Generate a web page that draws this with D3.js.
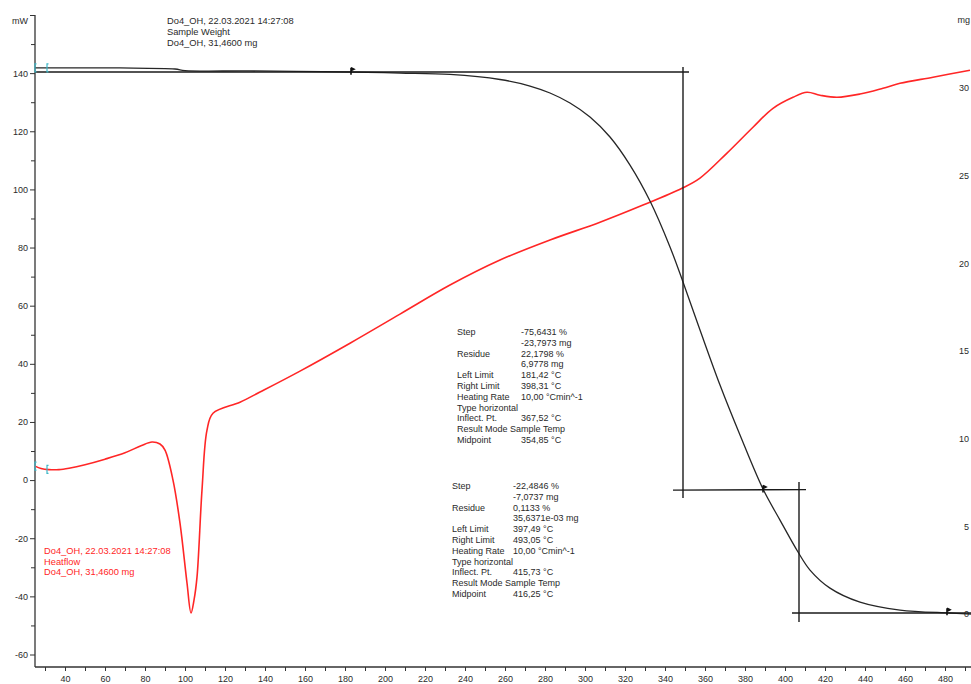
<!DOCTYPE html>
<html><head><meta charset="utf-8">
<script src="https://cdn.jsdelivr.net/npm/d3@7/dist/d3.min.js"></script>
<style>
body{margin:0;background:#fff}
svg{display:block}
text{font-family:"Liberation Sans",Arial,sans-serif}
</style>
</head><body>
<svg id="chart" width="971" height="684"></svg>
<script>
// ---------- data ----------
const tempTickValues = d3.range(40, 481, 20);
const heatflowTickValues = d3.range(-60, 141, 20);
const massTickValues = [0, 5, 10, 15, 20, 25, 30];

// DSC heat flow (mW) vs temperature (°C)
const dscTemp = [25, 28, 32, 37, 42, 50, 60, 70, 78, 83.5, 87.5, 90, 94, 97.5, 101, 103, 104.5, 106, 108.5, 111, 114, 127.5, 137.5, 157.5, 182.5, 207.5, 232.5, 257.5, 282.5, 307.5, 329, 348.5, 357.5, 371, 384, 394, 404, 411, 417.5, 426, 437.5, 449, 457.5, 474, 492.5];
const dscHeatflow = [4.8, 4.0, 3.6, 3.6, 4.1, 5.3, 7.2, 9.4, 11.8, 13.1, 12.4, 10.3, 0, -14.8, -35.4, -45.7, -41.3, -33.4, -3.4, 17.2, 23.0, 26.8, 30.3, 37.5, 47.1, 57.1, 67.1, 75.7, 82.6, 88.7, 94.6, 100.4, 103.9, 112.5, 121.4, 127.9, 131.7, 133.4, 132.4, 131.7, 132.8, 134.8, 136.5, 138.6, 141.0];

// TG sample weight (mg) vs temperature (°C)
const tgTemp = [25, 31, 67.5, 95, 100, 132.5, 182.5, 207.5, 232.5, 257.5, 272.5, 282.5, 292.5, 302.5, 312.5, 322.5, 332.5, 342.5, 349, 357.5, 367.5, 377.5, 389, 397.5, 406.5, 412.5, 422.5, 437.5, 457.5, 482.5, 493];
const tgMass = [31.15, 31.15, 31.15, 31.09, 31.0, 30.98, 30.92, 30.86, 30.78, 30.49, 30.12, 29.72, 29.15, 28.35, 27.21, 25.61, 23.56, 20.94, 18.94, 16.2, 13.06, 10.21, 7.13, 5.36, 3.54, 2.51, 1.48, 0.68, 0.23, 0.06, 0.0];

// step-evaluation construction lines (temperature, mass)
const stepLines = [
  [[25, 30.92], [352, 30.92]],
  [[349, 31.2], [349, 6.62]],
  [[344, 7.07], [410.5, 7.1]],
  [[407, 7.53], [407, -0.46]],
  [[403.5, 0.06], [493, 0.06]]
];
const limitMarkTemp = [183, 389, 481];
const limitMarkMass = [30.94, 7.1, 0.1];
const startMarkTemp = [25, 31];

const headerLines = ["Do4_OH, 22.03.2021 14:27:08", "Sample Weight", "Do4_OH, 31,4600 mg"];
const dscLegendLines = ["Do4_OH, 22.03.2021 14:27:08", "Heatflow", "Do4_OH, 31,4600 mg"];

const step1Labels = ["Step", "", "Residue", "", "Left Limit", "Right Limit", "Heating Rate", "Type horizontal", "Inflect. Pt.", "Result Mode Sample Temp", "Midpoint"];
const step1Values = ["-75,6431 %", "-23,7973 mg", "22,1798 %", "6,9778 mg", "181,42 °C", "398,31 °C", "10,00 °Cmin^-1", "", "367,52 °C", "", "354,85 °C"];
const step2Labels = ["Step", "", "Residue", "", "Left Limit", "Right Limit", "Heating Rate", "Type horizontal", "Inflect. Pt.", "Result Mode Sample Temp", "Midpoint"];
const step2Values = ["-22,4846 %", "-7,0737 mg", "0,1133 %", "35,6371e-03 mg", "397,49 °C", "493,05 °C", "10,00 °Cmin^-1", "", "415,73 °C", "", "416,25 °C"];

// ---------- chart ----------
const svg = d3.select("#chart");
const x = d3.scaleLinear().domain([25, 493]).range([35, 971]);
const yL = d3.scaleLinear().domain([-64.3, 160]).range([667, 15]);
const yR = d3.scaleLinear().domain([-3.02, 34.17]).range([667, 15]);

const axisColor = "#333";
const textColor = "#2a2a2a";
const red = "#ff2626";

function dscInterp(t) {
  for (let i = 0; i < dscTemp.length - 1; i++) {
    if (t >= dscTemp[i] && t <= dscTemp[i + 1]) {
      const f = (t - dscTemp[i]) / (dscTemp[i + 1] - dscTemp[i]);
      return dscHeatflow[i] + f * (dscHeatflow[i + 1] - dscHeatflow[i]);
    }
  }
  return dscHeatflow[0];
}

// left axis
const gL = svg.append("g").attr("transform", "translate(35,0)")
  .call(d3.axisLeft(yL).tickValues(d3.range(-60, 161, 10)).tickSize(5).tickPadding(2)
    .tickFormat(v => v === 160 ? "mW" : (heatflowTickValues.includes(v) ? v : "")));
gL.select(".domain").attr("d", `M0,${yL(160)}V667`).attr("stroke", axisColor).attr("stroke-width", 1.3);
gL.selectAll(".tick line").attr("stroke", axisColor)
  .attr("x2", d => (d % 20 === 0 || d === 160) ? -5 : -4);
gL.selectAll(".tick text").attr("fill", textColor).attr("font-size", 9)
  .attr("dy", d => d === 160 ? "0.9em" : "0.32em");

// bottom axis
const gB = svg.append("g").attr("transform", "translate(0,667)")
  .call(d3.axisBottom(x).tickValues(d3.range(30, 491, 10)).tickSize(4).tickPadding(5)
    .tickFormat(v => tempTickValues.includes(v) ? v : ""));
gB.select(".domain").attr("d", "M35,0H971").attr("stroke", axisColor).attr("stroke-width", 1.3);
gB.selectAll(".tick line").attr("stroke", axisColor);
gB.selectAll(".tick text").attr("fill", textColor).attr("font-size", 9);

// right labels (no axis line)
const gR = svg.append("g");
gR.selectAll("text.rt").data(massTickValues).join("text")
  .attr("class", "rt").attr("x", 969).attr("y", d => yR(d)).attr("dy", "0.35em")
  .attr("text-anchor", "end").attr("font-size", 9).attr("fill", textColor).text(d => d);
gR.append("text").attr("x", 970).attr("y", 23).attr("text-anchor", "end")
  .attr("font-size", 9).attr("fill", textColor).text("mg");

// DSC curve
const dscData = dscTemp.map((t, i) => [t, dscHeatflow[i]]);
svg.append("path").datum(dscData)
  .attr("d", d3.line().x(d => x(d[0])).y(d => yL(d[1])).curve(d3.curveCatmullRom.alpha(0.5)))
  .attr("fill", "none").attr("stroke", red).attr("stroke-width", 1.6);

// TG curve
const tgData = tgTemp.map((t, i) => [t, tgMass[i]]);
svg.append("path").datum(tgData)
  .attr("d", d3.line().x(d => x(d[0])).y(d => yR(d[1])).curve(d3.curveCatmullRom.alpha(0.5)))
  .attr("fill", "none").attr("stroke", "#262626").attr("stroke-width", 1.3);

// construction lines
svg.selectAll("path.step").data(stepLines).join("path").attr("class", "step")
  .attr("d", d3.line().x(d => x(d[0])).y(d => yR(d[1])))
  .attr("fill", "none").attr("stroke", "#1a1a1a").attr("stroke-width", 1.4);

// limit markers
limitMarkTemp.forEach((t, i) => {
  const px = x(t), py = yR(limitMarkMass[i]);
  svg.append("path").attr("d", `M${px},${py - 4}V${py + 3}M${px},${py - 4}l3,1.5l-3,1.5`)
    .attr("stroke", "#111").attr("stroke-width", 1.6).attr("fill", "#111");
});

// start markers (cyan)
startMarkTemp.forEach(t => {
  [yR(tgMass[0]), yL(dscInterp(t))].forEach(py => {
    const px = x(t);
    svg.append("path").attr("d", `M${px + 1.5},${py - 4}H${px}V${py + 4}H${px + 1.5}`)
      .attr("fill", "none").attr("stroke", "#3fb8c8").attr("stroke-width", 1.2);
  });
});

// header text
svg.append("g").selectAll("text").data(headerLines).join("text")
  .attr("x", 167).attr("y", (d, i) => 24 + i * 11).attr("font-size", 9.3).attr("fill", textColor).text(d => d);

// DSC legend
svg.append("g").selectAll("text").data(dscLegendLines).join("text")
  .attr("x", 44).attr("y", (d, i) => 554 + i * 10.5).attr("font-size", 9.3).attr("fill", red).text(d => d);

// step result blocks
function block(labels, values, lx, vx, y0) {
  const g = svg.append("g").attr("font-size", 9).attr("fill", textColor);
  labels.forEach((l, i) => {
    if (l) g.append("text").attr("x", lx).attr("y", y0 + i * 10.8).text(l);
    if (values[i]) g.append("text").attr("x", vx).attr("y", y0 + i * 10.8).text(values[i]);
  });
}
block(step1Labels, step1Values, 457, 521, 335);
block(step2Labels, step2Values, 452, 513, 489);
</script>
</body></html>
